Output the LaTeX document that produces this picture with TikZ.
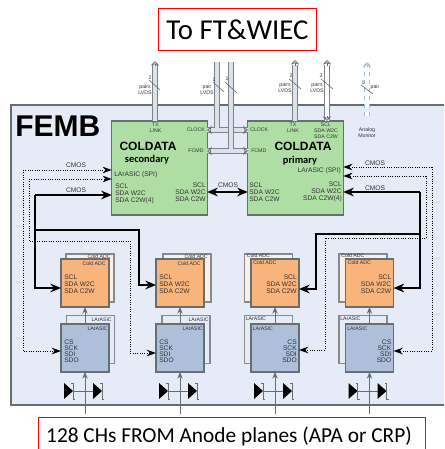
\documentclass[tikz,border=0pt]{standalone}
\usepackage{fontspec}
\setmainfont{Liberation Sans}
\newfontfamily\carlito{Carlito}
\usetikzlibrary{arrows.meta}
\definecolor{femb}{HTML}{E6ECF7}
\definecolor{edge}{HTML}{666E70}
\definecolor{chipgreen}{HTML}{AEDEA4}
\definecolor{adcfront}{HTML}{F9B47C}
\definecolor{adcback}{HTML}{FDEFE5}
\definecolor{asicfront}{HTML}{AEC0D9}
\definecolor{inktext}{HTML}{333333}
\definecolor{pipefill}{HTML}{DCE1EA}
\definecolor{monitor}{HTML}{9DB8DC}
\tikzset{
  chip/.style={draw=edge,line width=0.8pt,inner sep=0pt,outer sep=0pt,minimum width=36pt,minimum height=36pt},
  coldata/.style={chip,fill=chipgreen,minimum width=71.5pt,minimum height=70.5pt},
  lbl/.style={inner sep=0pt,text=inktext,align=left,font=\fontsize{5}{5.2}\selectfont},
  lblr/.style={lbl,align=right,anchor=east},
  lbll/.style={lbl,anchor=west},
  wee/.style={inner sep=0pt,text=inktext,align=center,font=\fontsize{3.9}{4.6}\selectfont},
  weer/.style={wee,anchor=east},
  weel/.style={wee,anchor=west},
  title/.style={draw=red,line width=0.8pt,fill=white,inner sep=0pt,font=\carlito},
  bus/.style={line width=1.5pt,-{Stealth[length=8pt,width=6.5pt]}},
  ctrl/.style={line width=0.75pt,densely dotted,-{Stealth[length=7pt,width=5pt,line width=0pt]}},
  feed/.style={draw=edge,line width=0.6pt,-{Stealth[length=5pt,width=4pt]}},
  pipe/.style={draw=edge!85,line width=0.75pt,double=pipefill,double distance=2.4pt},
  pipetip/.style={draw=edge,line width=0.5pt,-{Stealth[open,length=3.5pt,width=6.5pt]}},
  slash/.style={draw=edge,line width=0.45pt},
  diodebar/.style={draw=edge,line width=0.7pt}
}
\begin{document}
\begin{tikzpicture}[x=0.75pt,y=-0.75pt]
  \clip (0,0) rectangle (444,449);
  % board
  \node[draw=edge,line width=1pt,fill=femb,minimum width=440pt,minimum height=225pt,anchor=north west,inner sep=0pt,outer sep=0pt] (femb) at (11,105) {};
  \node[inner sep=0pt,anchor=base west,font=\fontsize{22.5}{22}\selectfont\bfseries] (fembname) at (15,137) {FEMB};
  % titles
  \node[title,minimum width=119pt,minimum height=32pt,font=\carlito\fontsize{21.6}{22}\selectfont] (tofelix) at (237.5,29.5) {To FT\&WIEC};
  \node[draw=red,line width=0.8pt,fill=white,inner sep=0pt,minimum width=290pt,minimum height=30pt,anchor=north west] (anode) at (38,417) {};
  \node[inner sep=0pt,anchor=base,font=\carlito\fontsize{16}{16}\selectfont] (anodename) at (229,442) {128 CHs FROM Anode planes (APA or CRP)};
  % coldata chips
  \node[coldata] (cdsec) at (159.5,168) {};
  \node[coldata] (cdpri) at (295.5,168) {};
  % analog monitor
  \draw[draw=monitor,line width=0.75pt,dashed,double=white,double distance=2.4pt] (367,116) -- (367,66);
  \draw[draw=monitor,line width=0.6pt,-{Stealth[open,length=3.5pt,width=6.5pt]}] (367,67) -- (367,62);
  % lvds pipes
  \draw[pipe] (cdsec.north -| 155,0) -- (155,65);
  \draw[pipetip] (155,66) -- (155,61);
  \draw[pipe] (cdsec.east |- 0,130) -- (cdpri.west |- 0,130) (217,130) -- (217,62);
  \draw[pipe,double distance=3.4pt] (cdsec.east |- 0,151) -- (cdpri.west |- 0,151) (231,151) -- (231,62);
  \draw[pipetip] (210,130) -- (cdsec.east |- 0,130);
  \draw[pipetip] (245,130) -- (cdpri.west |- 0,130);
  \draw[pipetip] (210,151) -- (cdsec.east |- 0,151);
  \draw[pipetip] (245,151) -- (cdpri.west |- 0,151);
  \draw[pipe] (cdpri.north -| 295,0) -- (295,65);
  \draw[pipetip] (295,66) -- (295,60);
  \draw[pipe,double=white] (cdpri.north -| 327,0) -- (327,65);
  \draw[pipetip] (327,66) -- (327,60);
  \draw[pipetip] (327,116) -- (cdpri.north -| 327,0);
  \draw[slash] (149,80) -- (160,90);
  \draw[slash] (213,82) -- (224,92);
  \draw[slash] (225,82) -- (237,93);
  \draw[slash] (289,79) -- (301,89);
  \draw[slash] (321,79) -- (333,89);
  \draw[slash] (361,85) -- (373,94);
  \node[wee] (num1) at (150,78) {2};
  \node[wee] (num2) at (214,80) {1};
  \node[wee] (num3) at (227,79) {1};
  \node[wee] (num4) at (291,76) {2};
  \node[wee] (num5) at (321,76) {3};
  \node[wee] (num6) at (363,83) {1};
  \node[wee] (lvds1) at (145,90) {pairs\\LVDS};
  \node[wee] (lvds2) at (207,90) {pair\\LVDS};
  \node[wee] (lvds3) at (285,88) {pairs\\LVDS};
  \node[wee] (lvds4) at (317,88) {pairs\\LVDS};
  \node[wee] (monpair) at (375,87) {pair};
  \node[wee] (monname) at (367,133) {Analog\\Monitor};
  % block columns
  \foreach \n/\xf/\xb/\xc in {1/85/90/90.5,2/180/187/186,3/275/268.5/268.5,4/369.5/363/363} {
    \node[chip,fill=adcback,draw=edge!80] (adcb\n) at (\xb,278) {};
    \node[chip,fill=adcfront] (adc\n) at (\xf,283) {};
    \node[chip,draw=edge!80] (asicb\n) at (\xc,339.5) {};
    \node[chip,fill=asicfront] (asic\n) at (\xf,348) {};
    \coordinate (in\n) at (\xf,414);
    \coordinate (dioa\n) at (\xf-12,391);
    \coordinate (diob\n) at (\xf+8,391);
    \draw[feed] (asic\n.north) -- (adc\n.south);
    \draw[feed] (in\n) -- (asic\n.south);
    \draw[draw=edge,line width=0.5pt] (dioa\n) -- (diob\n);
    \fill (\xf-21,383) -- (\xf-12,391) -- (\xf-21,399) -- cycle;
    \fill (\xf+8,383) -- (\xf+17,391) -- (\xf+8,399) -- cycle;
    \draw[diodebar] (\xf-14,383) -- (\xf-12,383) -- (\xf-12,399) -- (\xf-10,399);
    \draw[diodebar] (\xf+15,383) -- (\xf+17,383) -- (\xf+17,399) -- (\xf+19,399);
  }
  % block texts, left pair
  \foreach \n/\xf/\xb in {1/85/90,2/180/187} {
    \node[weer] (adcbl\n) at (\xb+21,257) {Cold ADC};
    \node[weer] (adcl\n) at (\xf+21,264) {Cold ADC};
    \node[lbll] (adcpin\n) at (\xf-21,284) {SCL\\SDA W2C\\SDA C2W};
    \node[weer] (asicbl\n) at (\xb+22,319.5) {LArASIC};
    \node[weer] (asicl\n) at (\xf+23,329) {LArASIC};
    \node[lbll,font=\fontsize{5}{4.5}\selectfont] (asicpin\n) at (\xf-21,351) {CS\\SCK\\SDI\\SDO};
  }
  % block texts, right pair
  \foreach \n/\xf/\xb in {3/275/268.5,4/369.5/363} {
    \node[weel] (adcbl\n) at (\xb-22,256) {Cold ADC};
    \node[weel] (adcl\n) at (\xf-22,263) {Cold ADC};
    \node[lblr] (adcpin\n) at (\xf+22,284) {SCL\\SDA W2C\\SDA C2W};
    \node[weel] (asicbl\n) at (\xb-23,319) {LArASIC};
    \node[weel] (asicl\n) at (\xf-22.5,329) {LArASIC};
    \node[lblr,font=\fontsize{5}{4.5}\selectfont] (asicpin\n) at (\xf+22,351) {CS\\SCK\\SDI\\SDO};
  }
  % cmos buses
  \coordinate (busl) at (35,230);
  \coordinate (busr) at (420,234);
  \draw[bus] (35,195) -- (35,288) -- (adc1.west |- 0,288);
  \draw[bus] (35,195) -- (cdsec.west |- 0,195);
  \draw[bus] (busl) -- (139,230) -- (139,285) -- (adc2.west |- 0,285);
  \draw[bus] (420,192) -- (420,288) -- (adc4.east |- 0,288);
  \draw[bus] (420,192) -- (cdpri.east |- 0,192);
  \draw[bus] (busr) -- (316,234) -- (316,289) -- (adc3.east |- 0,289);
  \draw[bus,{Stealth[length=8pt,width=6.5pt]}-{Stealth[length=8pt,width=6.5pt]}] (cdsec.east |- 0,192) -- (cdpri.west |- 0,192);
  % spi lines
  \draw[ctrl] (23,170) -- (23,351) -- (asic1.west |- 0,351);
  \draw[ctrl] (23,170) -- (cdsec.west |- 0,170);
  \draw[ctrl] (29,179) -- (29,241) -- (130,241) -- (130,353) -- (asic2.west |- 0,353);
  \draw[ctrl] (29,179) -- (cdsec.west |- 0,179);
  \draw[ctrl] (432,167) -- (432,351) -- (asic4.east |- 0,351);
  \draw[ctrl] (432,167) -- (cdpri.east |- 0,167);
  \draw[ctrl] (426,176) -- (426,238) -- (325,238) -- (325,350) -- (asic3.east |- 0,350);
  \draw[ctrl] (426,176) -- (cdpri.east |- 0,176);
  \node[lbl] (cmos1) at (76,165) {CMOS};
  \node[lbl] (cmos2) at (76,190) {CMOS};
  \node[lbl] (cmos3) at (228,185) {CMOS};
  \node[lbl] (cmos4) at (375,163) {CMOS};
  \node[lbl] (cmos5) at (375,188) {CMOS};
  % secondary texts
  \node[inner sep=0pt,font=\fontsize{9}{9}\selectfont\bfseries] (secname) at (148,146) {COLDATA};
  \node[inner sep=0pt,font=\carlito\fontsize{7.8}{8}\selectfont\bfseries] (secrole) at (147,160) {secondary};
  \node[wee] (sectx) at (155.5,128) {TX\\LINK};
  \node[weer] (secclk) at (205,130) {CLOCK};
  \node[wee] (secfcmd) at (196,151) {FCMD};
  \node[lbll] (secspi) at (114,175) {LArASIC (SPI)};
  \node[lbll] (secpinl) at (115,194) {SCL\\SDA W2C\\SDA C2W(4)};
  \node[lblr] (secpinr) at (206,192) {SCL\\SDA W2C\\SDA C2W};
  % primary texts
  \node[inner sep=0pt,font=\fontsize{9}{9}\selectfont\bfseries] (priname) at (303,146) {COLDATA};
  \node[inner sep=0pt,font=\carlito\fontsize{7.8}{8}\selectfont\bfseries] (prirole) at (300,161) {primary};
  \node[wee] (pritx) at (293,128) {TX\\LINK};
  \node[wee] (priscl) at (326,131) {SCL\\SDA W2C\\SDA C2W};
  \node[weel] (priclk) at (250,130) {CLOCK};
  \node[weel] (prifcmd) at (251,151) {FCMD};
  \node[lblr] (prispi) at (341,171) {LArASIC (SPI)};
  \node[lblr] (pripinr) at (342,192) {SCL\\SDA W2C\\SDA C2W(4)};
  \node[lbll] (pripinl) at (249,192) {SCL\\SDA W2C\\SDA C2W};
\end{tikzpicture}
\end{document}
